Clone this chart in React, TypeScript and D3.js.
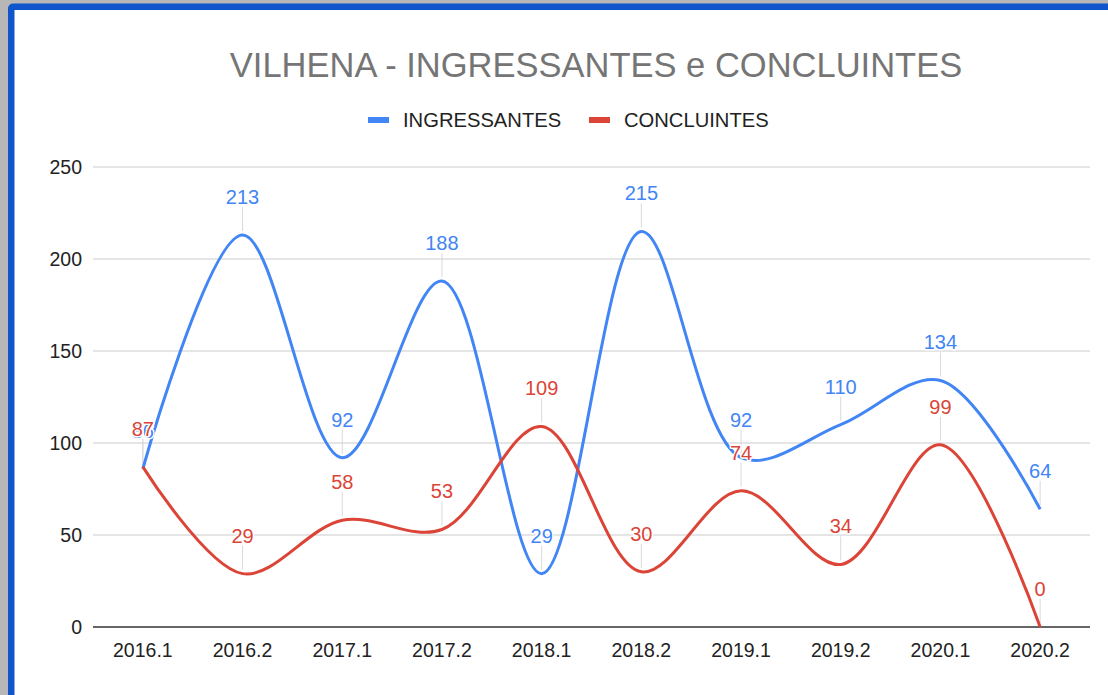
import { useMemo } from "react";
import * as d3 from "d3";

const WIDTH = 1108;
const HEIGHT = 695;
const PLOT = { left: 93, right: 1090, top: 167, bottom: 627 };

const periods = ["2016.1", "2016.2", "2017.1", "2017.2", "2018.1", "2018.2", "2019.1", "2019.2", "2020.1", "2020.2"];
const ingressantes = [86, 213, 92, 188, 29, 215, 92, 110, 134, 64];
const concluintes = [87, 29, 58, 53, 109, 30, 74, 34, 99, 0];
const yTicks = [0, 50, 100, 150, 200, 250];

const BLUE = "#4285f4";
const RED = "#db4437";
const FONT = "'Liberation Sans', Arial, sans-serif";

const series = [
  { name: "INGRESSANTES", values: ingressantes, color: BLUE },
  { name: "CONCLUINTES", values: concluintes, color: RED },
];

export default function App() {
  const x = useMemo(
    () => d3.scalePoint<string>().domain(periods).range([PLOT.left, PLOT.right]).padding(0.5),
    []
  );
  const y = useMemo(() => d3.scaleLinear().domain([0, 250]).range([PLOT.bottom, PLOT.top]), []);

  const line = useMemo(
    () =>
      d3
        .line<number>()
        .x((_, i) => x(periods[i]) ?? 0)
        .y((d) => y(d))
        .curve(d3.curveCatmullRom.alpha(0.5)),
    [x, y]
  );

  return (
    <svg
      width={WIDTH}
      height={HEIGHT}
      style={{ position: "absolute", left: 0, top: 0, fontFamily: FONT }}
    >
      <rect width={WIDTH} height={HEIGHT} fill="#b7b7b7" />
      <rect x={8} y={3.5} width={WIDTH + 20} height={HEIGHT + 20} rx={5} fill="#1155cc" />
      <rect x={14.5} y={10} width={WIDTH + 20} height={HEIGHT + 20} fill="#ffffff" />

      <text x={596} y={77} textAnchor="middle" fontSize={34.5} fill="#757575">
        VILHENA - INGRESSANTES e CONCLUINTES
      </text>

      {/* legend */}
      <rect x={368} y={117} width={21} height={6} fill={BLUE} />
      <text x={403} y={127} fontSize={20.2} fill="#222">INGRESSANTES</text>
      <rect x={589} y={117} width={21} height={6} fill={RED} />
      <text x={624} y={127} fontSize={20.2} fill="#222">CONCLUINTES</text>

      {/* grid */}
      {yTicks.map((t) => (
        <g key={t}>
          {t !== 0 && (
            <line x1={PLOT.left} x2={PLOT.right} y1={y(t)} y2={y(t)} stroke="#cccccc" strokeWidth={1.2} />
          )}
          <text x={82} y={y(t)} dy="0.35em" textAnchor="end" fontSize={19.5} fill="#222">
            {t}
          </text>
        </g>
      ))}

      {periods.map((p) => (
        <text key={p} x={x(p)} y={657} textAnchor="middle" fontSize={19.5} fill="#222">
          {p}
        </text>
      ))}

      {/* leader lines */}
      {series.map((s) =>
        s.values.map((v, i) => (
          <line
            key={s.name + i}
            x1={x(periods[i])}
            x2={x(periods[i])}
            y1={y(v) - 4}
            y2={y(v) - 28}
            stroke="#d9d9d9"
            strokeWidth={1}
          />
        ))
      )}

      <line x1={PLOT.left} x2={PLOT.right} y1={y(0)} y2={y(0)} stroke="#333333" strokeWidth={1.5} />

      {series.map((s) => (
        <path key={s.name} d={line(s.values) ?? ""} fill="none" stroke={s.color} strokeWidth={3} />
      ))}

      {series.map((s) =>
        s.values.map((v, i) => (
          <text
            key={s.name + "l" + i}
            x={x(periods[i])}
            y={y(v) - 31}
            textAnchor="middle"
            fontSize={20}
            fill={s.color}
            stroke="#ffffff"
            strokeWidth={3}
            strokeLinejoin="round"
            paintOrder="stroke"
          >
            {v}
          </text>
        ))
      )}
    </svg>
  );
}
